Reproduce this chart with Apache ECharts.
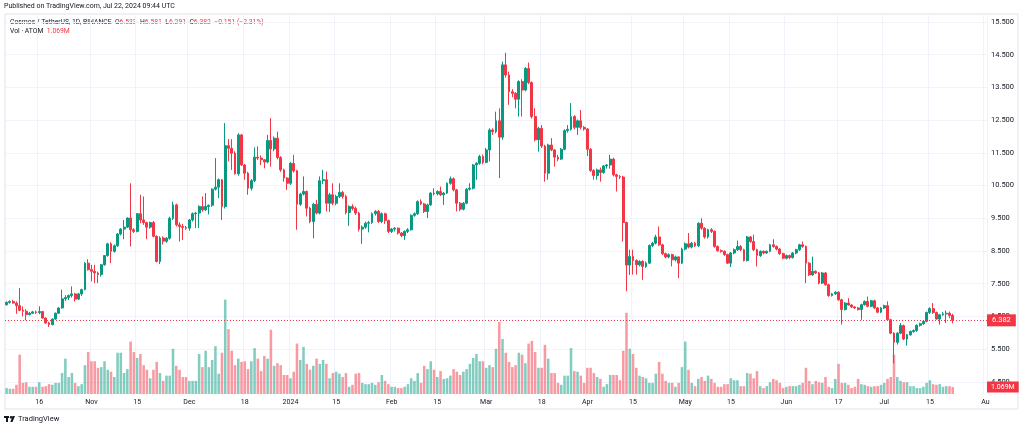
<!DOCTYPE html>
<html><head><meta charset="utf-8">
<script src="https://cdn.jsdelivr.net/npm/echarts@6/dist/echarts.min.js"></script>
<style>html,body{margin:0;padding:0;background:#fff}#c{width:1024px;height:429px}</style>
</head><body><div id="c"></div>
<script>
// ---- data (ATOM/USDT daily, 2023-10-06 .. 2024-07-22) ----
const startDate = '2023-10-06';
const endAxisDate = '2024-08-01';
const open = [
6.86,6.93,6.96,6.91,6.83,6.69,6.66,6.56,6.60,6.64,
6.62,6.65,6.45,6.30,6.25,6.42,6.60,6.76,7.04,7.08,
7.14,7.19,7.03,7.19,7.32,8.13,7.93,7.88,7.83,7.78,
8.08,8.36,8.72,8.49,8.66,9.02,9.17,9.23,9.51,9.15,
9.10,9.64,9.45,9.37,9.23,9.37,8.95,8.18,8.90,8.80,
8.89,9.50,9.91,9.30,9.25,9.22,9.20,9.45,9.64,9.66,
9.86,9.76,9.86,9.90,10.39,10.45,10.68,9.86,11.72,11.64,
11.49,10.86,12.05,11.13,10.88,10.42,10.65,11.37,11.34,11.29,
11.22,11.88,11.62,11.95,11.36,10.98,10.73,10.57,11.18,10.95,
9.93,10.24,10.32,9.81,9.40,9.93,9.66,10.65,10.68,9.96,
10.22,9.96,10.17,10.29,10.17,9.68,9.86,9.80,9.66,9.17,
9.23,9.35,9.37,9.64,9.71,9.40,9.64,9.43,9.10,9.17,
9.20,9.05,8.97,9.10,9.15,9.59,9.64,10.01,9.94,9.71,
9.91,10.27,10.25,10.32,10.22,10.27,10.57,10.71,10.37,9.96,
9.78,9.96,10.39,10.42,11.13,11.18,11.39,11.21,11.59,12.20,
12.15,12.48,11.98,14.19,13.88,13.37,13.32,13.14,13.68,13.42,
14.08,13.65,12.61,11.90,12.25,11.71,10.88,11.74,11.59,11.37,
11.31,11.61,12.18,12.22,12.61,12.28,12.48,12.28,12.23,11.61,
10.96,10.81,10.98,10.90,11.10,11.13,11.31,10.83,10.78,10.76,
9.37,8.07,8.33,8.21,8.08,8.18,8.03,8.13,8.67,8.74,
8.93,8.69,8.42,8.32,8.39,8.23,8.32,8.13,8.56,8.72,
8.62,8.74,8.66,9.35,9.20,8.93,9.15,9.10,8.64,8.51,
8.49,8.39,8.13,8.44,8.54,8.64,8.54,8.21,8.93,8.79,
8.54,8.36,8.49,8.44,8.49,8.69,8.64,8.56,8.42,8.28,
8.36,8.30,8.44,8.54,8.69,8.64,8.13,7.77,7.88,7.83,
7.52,7.83,7.47,7.14,7.19,7.24,7.01,6.71,6.91,6.85,
6.79,6.76,6.71,6.86,6.96,6.81,6.98,6.76,6.63,6.76,
6.83,6.40,5.99,5.71,5.99,6.22,5.81,5.94,6.04,6.07,
6.23,6.28,6.35,6.62,6.74,6.62,6.42,6.55,6.58,6.60,
6.533];
const high = [
6.96,6.99,7.01,6.96,7.37,6.81,6.72,6.64,6.67,6.68,
6.81,6.67,6.47,6.34,6.44,6.62,6.78,7.32,7.15,7.17,
7.42,7.22,7.22,7.35,8.16,8.25,8.08,8.08,7.87,8.10,
8.38,8.75,8.77,8.70,9.05,9.20,9.45,9.53,10.57,9.20,
9.66,10.22,10.17,9.40,9.40,9.42,8.98,8.95,8.95,8.93,
9.55,10.01,9.95,9.38,9.33,9.27,9.48,9.68,9.70,9.90,
10.17,10.27,9.92,10.42,11.34,10.72,10.70,12.41,11.92,11.92,
11.55,12.10,12.08,11.16,10.92,10.70,11.67,11.70,11.42,11.31,
12.05,12.56,12.00,12.15,11.40,11.02,10.76,11.22,11.44,10.98,
10.28,10.78,10.35,9.85,9.97,10.06,10.78,10.98,10.93,10.28,
10.57,10.22,10.57,10.34,10.22,9.90,9.93,9.86,9.70,9.28,
9.40,9.42,9.68,9.75,9.76,9.68,9.67,9.46,9.20,9.23,
9.22,9.08,9.13,9.20,9.62,9.68,10.05,10.08,9.97,9.95,
10.30,10.42,10.36,10.47,10.30,10.60,10.78,10.75,10.40,10.00,
10.00,10.42,10.57,11.16,11.22,11.44,11.45,11.65,12.25,12.25,
12.76,12.86,14.29,14.56,13.98,13.45,13.36,13.72,13.75,14.12,
14.26,13.68,12.86,12.30,12.35,11.75,11.78,11.95,11.62,11.44,
11.65,12.22,12.35,13.02,12.65,12.52,12.81,12.32,12.26,11.65,
11.00,11.02,11.05,11.13,11.16,11.44,11.35,10.86,10.82,10.80,
9.40,8.54,8.54,8.25,8.22,8.22,8.18,8.70,8.78,9.00,
9.25,8.72,8.45,8.43,8.42,8.36,8.34,8.60,8.76,9.05,
8.78,8.78,9.38,9.50,9.23,9.18,9.20,9.13,8.67,8.55,
8.52,8.42,8.47,8.58,8.82,8.68,8.57,8.96,8.96,9.00,
8.57,8.52,8.52,8.52,8.72,8.86,8.67,8.59,8.45,8.39,
8.39,8.47,8.57,8.72,8.79,8.67,8.16,8.33,7.91,7.86,
7.86,7.86,7.50,7.22,7.27,7.27,7.04,6.94,7.06,6.88,
6.82,6.79,6.89,6.99,7.11,7.01,7.01,6.79,6.79,6.86,
6.96,6.43,6.02,6.02,6.30,6.25,5.97,6.07,6.10,6.26,
6.31,6.38,6.65,6.78,6.91,6.65,6.58,6.64,6.68,6.65,
6.581];
const low = [
6.83,6.89,6.89,6.58,6.66,6.50,6.38,6.53,6.58,6.58,
6.57,6.43,6.28,6.18,6.23,6.40,6.58,6.74,6.97,7.00,
7.08,6.96,7.00,7.13,7.30,7.90,7.57,7.52,7.52,7.72,
8.05,8.33,8.13,8.45,8.62,8.98,8.86,9.20,8.64,9.05,
9.07,9.35,9.30,8.86,9.18,8.92,8.15,8.10,8.70,8.75,
8.85,9.45,9.25,8.79,8.84,9.15,9.12,9.40,9.20,9.20,
9.70,9.72,9.62,9.85,10.35,10.12,9.45,9.80,11.24,10.98,
10.84,10.80,11.10,10.68,10.22,10.35,10.60,11.28,11.13,11.03,
11.18,11.08,11.55,11.30,10.92,10.62,10.37,10.52,10.90,9.15,
9.88,10.20,9.56,9.35,8.89,9.62,9.62,10.55,9.71,9.70,
9.90,9.90,10.12,10.10,9.62,9.27,9.74,9.60,9.10,8.72,
9.18,9.07,9.33,9.58,9.36,9.35,9.33,9.05,9.05,9.10,
9.00,8.92,8.84,9.05,9.12,9.55,9.60,9.90,9.66,9.51,
9.88,10.20,10.20,10.18,9.91,10.24,10.53,10.32,9.71,9.72,
9.74,9.93,10.35,10.38,10.68,11.14,11.15,11.18,11.24,12.05,
12.10,10.73,11.90,13.80,12.97,13.20,12.86,12.61,12.61,13.38,
13.60,12.55,11.85,11.54,11.65,10.62,10.68,11.55,11.08,11.25,
11.28,11.58,12.12,12.18,12.22,12.05,12.22,12.18,11.40,10.92,
10.68,10.68,10.62,10.86,11.02,11.02,10.78,10.32,10.70,8.79,
7.27,7.77,7.78,7.78,8.03,7.62,7.98,8.10,8.62,8.70,
8.66,8.38,8.28,8.28,8.03,8.18,7.67,8.10,8.52,8.58,
8.58,8.62,8.62,9.15,8.88,8.88,9.05,8.60,8.48,8.45,
8.35,8.10,8.01,8.40,8.50,8.50,8.18,8.18,8.75,8.50,
8.03,8.32,8.40,8.41,8.46,8.60,8.52,8.38,8.25,8.24,
8.25,8.27,8.40,8.50,8.60,7.52,7.74,7.74,7.80,7.48,
7.49,7.44,7.10,7.11,7.16,6.98,6.25,6.68,6.83,6.76,
6.73,6.68,6.40,6.83,6.78,6.78,6.73,6.60,6.60,6.73,
6.37,5.96,5.07,5.64,5.96,5.78,5.61,5.91,6.00,6.03,
6.19,6.24,6.32,6.58,6.58,6.40,6.25,6.52,6.30,6.45,
6.291];
const close = [
6.93,6.96,6.91,6.83,6.69,6.66,6.56,6.60,6.64,6.62,
6.65,6.45,6.30,6.25,6.42,6.60,6.76,7.04,7.08,7.14,
7.19,7.03,7.19,7.32,8.13,7.93,7.88,7.83,7.78,8.08,
8.36,8.72,8.49,8.66,9.02,9.17,9.23,9.51,9.15,9.10,
9.64,9.45,9.37,9.23,9.37,8.95,8.18,8.90,8.80,8.89,
9.50,9.91,9.30,9.25,9.22,9.20,9.45,9.64,9.66,9.86,
9.76,9.86,9.90,10.39,10.45,10.68,9.86,11.72,11.64,11.49,
10.86,12.05,11.13,10.88,10.42,10.65,11.37,11.34,11.29,11.22,
11.88,11.62,11.95,11.36,10.98,10.73,10.57,11.18,10.95,9.93,
10.24,10.32,9.81,9.40,9.93,9.66,10.65,10.68,9.96,10.22,
9.96,10.17,10.29,10.17,9.68,9.86,9.80,9.66,9.17,9.23,
9.35,9.37,9.64,9.71,9.40,9.64,9.43,9.10,9.17,9.20,
9.05,8.97,9.10,9.15,9.59,9.64,10.01,9.94,9.71,9.91,
10.27,10.25,10.32,10.22,10.27,10.57,10.71,10.37,9.96,9.78,
9.96,10.39,10.42,11.13,11.18,11.39,11.21,11.59,12.20,12.15,
12.48,11.98,14.19,13.88,13.37,13.32,13.14,13.68,13.42,14.08,
13.65,12.61,11.90,12.25,11.71,10.88,11.74,11.59,11.37,11.31,
11.61,12.18,12.22,12.61,12.28,12.48,12.28,12.23,11.61,10.96,
10.81,10.98,10.90,11.10,11.13,11.31,10.83,10.78,10.76,9.37,
8.07,8.33,8.21,8.08,8.18,8.03,8.13,8.67,8.74,8.93,
8.69,8.42,8.32,8.39,8.23,8.32,8.13,8.56,8.72,8.62,
8.74,8.66,9.35,9.20,8.93,9.15,9.10,8.64,8.51,8.49,
8.39,8.13,8.44,8.54,8.64,8.54,8.21,8.93,8.79,8.54,
8.36,8.49,8.44,8.49,8.69,8.64,8.56,8.42,8.28,8.36,
8.30,8.44,8.54,8.69,8.64,8.13,7.77,7.88,7.83,7.52,
7.83,7.47,7.14,7.19,7.24,7.01,6.71,6.91,6.85,6.79,
6.76,6.71,6.86,6.96,6.81,6.98,6.76,6.63,6.76,6.83,
6.40,5.99,5.71,5.99,6.22,5.81,5.94,6.04,6.07,6.23,
6.28,6.35,6.62,6.74,6.62,6.42,6.55,6.58,6.60,6.533,
6.382];
// volume in millions of ATOM
const volume = [
0.9,0.8,0.8,1.4,6.0,1.7,1.8,1.1,1.1,1.1,1.8,1.1,1.2,1.5,1.4,1.7,1.7,3.2,5.4,2.6,
3.2,1.7,1.2,1.5,4.4,6.4,5.0,5.0,4.0,4.1,5.0,3.7,3.4,2.6,6.3,6.3,3.2,3.8,8.0,6.4,
5.5,6.1,4.4,3.7,2.4,3.7,4.9,3.2,2.0,2.8,
2.8,6.9,4.3,3.7,2.6,2.6,2.0,2.0,2.0,6.1,4.1,6.6,4.1,5.2,7.3,3.1,6.3,14.4,9.9,6.6,
4.4,5.4,4.9,5.0,3.8,5.0,7.0,5.4,3.5,5.8,5.4,9.8,4.3,4.7,4.4,2.9,2.9,2.4,3.4,7.7,
5.2,7.2,4.6,3.7,4.3,5.4,4.6,5.2,4.6,
2.4,3.2,3.4,3.1,2.6,3.2,1.1,1.4,3.1,3.2,1.7,1.5,1.5,1.7,1.4,1.8,2.9,2.0,1.5,1.1,
1.1,0.9,0.9,1.1,1.5,2.4,2.0,3.2,1.7,4.3,3.8,5.0,3.7,2.6,3.5,2.3,2.4,2.8,3.8,3.4,
2.9,3.4,3.8,4.6,5.5,6.1,5.0,5.0,4.0,
4.4,4.1,6.9,11.0,8.4,6.3,4.9,4.1,4.4,6.3,6.0,4.7,7.7,8.1,6.4,4.0,4.0,7.5,5.4,3.2,
3.2,1.7,1.4,2.8,2.8,7.0,3.5,3.4,2.8,1.7,4.0,4.0,3.2,2.6,2.3,1.1,1.5,2.9,2.9,2.9,
2.1,6.6,12.4,6.9,6.1,4.0,
2.8,2.6,2.4,1.7,1.7,3.1,4.9,3.1,2.0,1.7,1.7,1.1,1.7,4.1,8.0,3.7,1.7,1.2,2.3,2.6,
2.0,2.8,2.3,1.7,1.1,1.1,1.5,1.5,2.4,2.1,2.1,1.2,1.2,3.2,3.1,2.4,3.5,1.2,0.9,1.2,
1.8,2.3,2.1,1.7,0.9,1.1,1.2,1.2,1.2,
1.4,1.7,4.0,2.0,1.5,2.0,1.8,1.7,2.6,1.1,0.9,2.3,4.6,1.7,1.7,1.4,0.9,1.1,2.3,1.5,
1.4,1.2,1.1,1.2,1.2,1.4,1.7,2.3,2.6,6.0,2.6,2.0,1.8,1.8,1.2,1.2,0.9,0.9,1.1,1.7,
2.1,1.5,1.4,1.5,1.1,1.2,1.2,1.069];
// time-axis tick labels
const tickDates = ['2023-10-16','2023-11-01','2023-11-15','2023-12-01','2023-12-18','2024-01-01','2024-01-15','2024-02-01','2024-02-15','2024-03-01','2024-03-18','2024-04-01','2024-04-15','2024-05-01','2024-05-15','2024-06-01','2024-06-17','2024-07-01','2024-07-15','2024-08-01'];
const tickTexts = ['16','Nov','15','Dec','18','2024','15','Feb','15','Mar','18','Apr','15','May','15','Jun','17','Jul','15','Au'];
// price-axis tick labels
const priceTicks = [4.5,5.5,6.5,7.5,8.5,9.5,10.5,11.5,12.5,13.5,14.5,15.5];

// ---- build ----
const categories = [];
for (let t = Date.parse(startDate + 'T00:00:00Z'); t <= Date.parse(endAxisDate + 'T00:00:00Z'); t += 86400000) {
  categories.push(new Date(t).toISOString().slice(0, 10));
}
const UP = '#089981', DOWN = '#F23645';
const candleData = open.map((o, i) => [o, close[i], low[i], high[i]]);
const volData = volume.map((v, i) => ({
  value: v,
  itemStyle: { color: close[i] >= open[i] ? 'rgba(8,153,129,0.5)' : 'rgba(242,54,69,0.5)' }
}));
const n = close.length - 1;
const chg = close[n] - close[n - 1];
const pct = chg / close[n - 1] * 100;
const fmtSigned = (v, d) => (v < 0 ? '\u2212' : '+') + Math.abs(v).toFixed(d);
const FONT = 'Roboto, "Noto Sans", sans-serif';
const tickSet = {};
tickDates.forEach((d, i) => { tickSet[d] = tickTexts[i]; });
const lastPriceText = close[n].toFixed(3);
const lastVolText = volume[n].toFixed(3) + 'M';

const chart = echarts.init(document.getElementById('c'));
chart.setOption({
  animation: false,
  backgroundColor: '#ffffff',
  textStyle: { fontFamily: FONT },
  grid: { left: 5, right: 37, top: 14, bottom: 35, containLabel: false },
  xAxis: {
    type: 'category',
    data: categories,
    boundaryGap: true,
    axisLine: { show: false },
    axisTick: { show: false },
    axisLabel: {
      interval: (idx, val) => tickSet[val] !== undefined,
      formatter: (val) => tickSet[val] || '',
      color: '#131722', fontSize: 7, margin: 5, fontFamily: FONT
    },
    splitLine: {
      show: true,
      interval: (idx, val) => tickSet[val] !== undefined,
      lineStyle: { color: '#f0f3fa', width: 1 }
    }
  },
  yAxis: [{
    type: 'value',
    position: 'right',
    min: 4.13, max: 15.745,
    axisLine: { show: false },
    axisTick: { show: false, customValues: priceTicks },
    axisLabel: {
      customValues: priceTicks,
      formatter: (v) => v.toFixed(3),
      color: '#131722', fontSize: 7.5, margin: 4, fontFamily: FONT
    },
    splitLine: { show: true, lineStyle: { color: '#f0f3fa', width: 1 } }
  }, {
    type: 'value',
    min: 0, max: 58,
    show: false
  }],
  series: [{
    type: 'bar',
    yAxisIndex: 1,
    data: volData,
    barWidth: '78%',
    silent: true,
    markLine: {
      silent: true, symbol: 'none', animation: false, precision: 3,
      lineStyle: { color: 'rgba(242,54,69,0)', width: 1, type: 'solid' },
      label: {
        show: true, position: 'end', distance: 0,
        formatter: () => lastVolText,
        backgroundColor: '#F23645', color: '#ffffff', fontSize: 7,
        padding: [2, 4, 2, 4], fontFamily: FONT
      },
      data: [{ yAxis: volume[n] }]
    }
  }, {
    type: 'candlestick',
    data: candleData,
    barWidth: '72%',
    silent: true,
    itemStyle: { color: UP, color0: DOWN, borderColor: UP, borderColor0: DOWN, borderWidth: 1 },
    markLine: {
      silent: true, symbol: 'none', animation: false, precision: 3,
      lineStyle: { color: '#F23645', type: [1, 2], width: 1 },
      label: {
        show: true, position: 'end', distance: 0,
        formatter: () => lastPriceText,
        backgroundColor: '#F23645', color: '#ffffff', fontSize: 7.5,
        padding: [2, 5, 2, 5], fontFamily: FONT
      },
      data: [{ yAxis: close[n] }]
    }
  }],
  graphic: [
    { type: 'rect', silent: true, z: -1, shape: { x: 5, y: 14, width: 1013, height: 395 },
      style: { fill: 'none', stroke: '#e0e3eb', lineWidth: 1 } },
    { type: 'text', silent: true, left: 4, top: 3,
      style: { text: 'Published on TradingView.com, Jul 22, 2024 09:44 UTC', fill: '#131722', fontSize: 7, fontFamily: FONT } },
    { type: 'text', silent: true, left: 10, top: 19,
      style: {
        text: '{n|Cosmos / TetherUS, 1D, BINANCE}  {k|O}{v|' + open[n].toFixed(3) + '}  {k|H}{v|' + high[n].toFixed(3) +
              '}  {k|L}{v|' + low[n].toFixed(3) + '}  {k|C}{v|' + close[n].toFixed(3) + '}  {v|' +
              fmtSigned(chg, 3) + ' (' + fmtSigned(pct, 2) + '%)}',
        fontSize: 6.8, fontFamily: FONT,
        rich: {
          n: { fill: '#131722', fontSize: 6.8, fontFamily: FONT },
          k: { fill: '#131722', fontSize: 6.8, fontFamily: FONT },
          v: { fill: '#F23645', fontSize: 6.8, fontFamily: FONT }
        }
      } },
    { type: 'text', silent: true, left: 10, top: 28,
      style: {
        text: '{n|Vol \u00b7 ATOM}  {v|' + lastVolText + '}',
        fontSize: 6.8, fontFamily: FONT,
        rich: {
          n: { fill: '#131722', fontSize: 6.8, fontFamily: FONT },
          v: { fill: '#F23645', fontSize: 6.8, fontFamily: FONT }
        }
      } },
    { type: 'group', silent: true, left: 4, top: 416, children: [
      { type: 'rect', shape: { x: 0, y: 0, width: 5, height: 2 }, style: { fill: '#131722' } },
      { type: 'rect', shape: { x: 2, y: 0, width: 2, height: 6 }, style: { fill: '#131722' } },
      { type: 'circle', shape: { cx: 7, cy: 1.2, r: 1.2 }, style: { fill: '#131722' } },
      { type: 'polygon', shape: { points: [[8.5, 0], [11, 0], [8.5, 6], [6.3, 6]] }, style: { fill: '#131722' } }
    ] },
    { type: 'text', silent: true, left: 18, top: 415,
      style: { text: 'TradingView', fill: '#131722', fontSize: 7.5, fontFamily: FONT } }
  ]
});
</script></body></html>
